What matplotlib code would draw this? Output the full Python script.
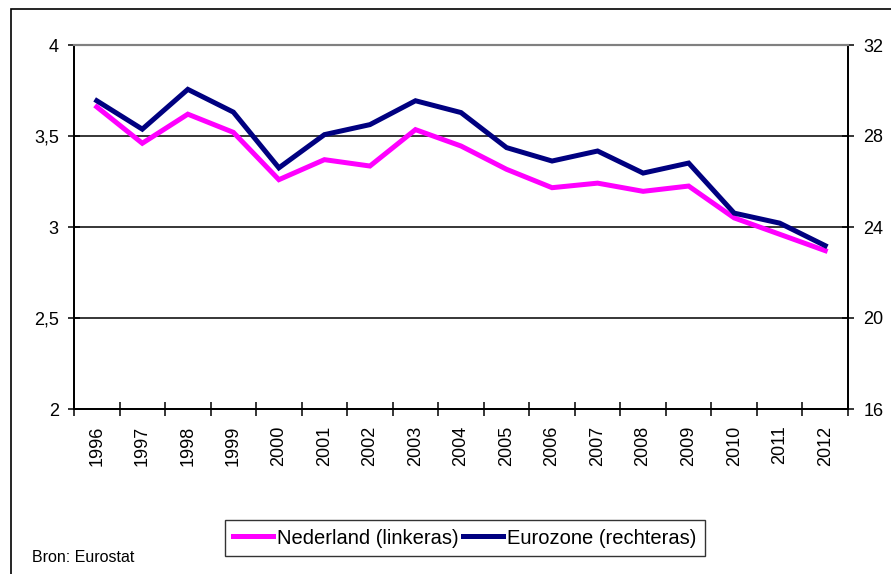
import matplotlib
matplotlib.use("Agg")
import matplotlib.pyplot as plt
from matplotlib.patches import Rectangle

plt.rcParams['font.family'] = ['Liberation Sans', 'DejaVu Sans']

years = [str(y) for y in range(1996, 2013)]
# Nederland, left axis
nederland = [3.66, 3.46, 3.62, 3.52, 3.26, 3.37, 3.335, 3.535, 3.445, 3.317,
             3.216, 3.241, 3.196, 3.225, 3.05, 2.96, 2.87]
# Eurozone, right axis
eurozone = [29.55, 28.3, 30.05, 29.05, 26.6, 28.06, 28.5, 29.55, 29.03, 27.49,
            26.9, 27.34, 26.37, 26.81, 24.61, 24.17, 23.18]
left_ticks = [2, 2.5, 3, 3.5, 4]
left_labels = ['2', '2,5', '3', '3,5', '4']
right_ticks = [16, 20, 24, 28, 32]

W, H = 891, 574
fig = plt.figure(figsize=(W / 100, H / 100), dpi=100)

# outer frame of the chart object
fig.patches.append(Rectangle((11 / W, -0.1), 1.2, 1 - 9 / H + 0.1,
                             transform=fig.transFigure, fill=False,
                             edgecolor='black', linewidth=1.2))

ax = fig.add_axes([74 / W, (H - 409) / H, (848 - 74) / W, (409 - 45) / H])
ax2 = ax.twinx()

x = list(range(len(years)))
l1, = ax.plot(x, nederland, color='#FF00FF', linewidth=3.6, solid_joinstyle='miter')
l2, = ax2.plot(x, eurozone, color='#000080', linewidth=3.6, solid_joinstyle='miter')

ax.set_xlim(-0.5, len(years) - 0.5)
ax.set_ylim(2, 4)
ax2.set_ylim(16, 32)

for v in left_ticks[1:-1]:
    ax.axhline(v, color='black', linewidth=1.1, zorder=0)

ax.set_yticks(left_ticks)
ax.set_yticklabels(left_labels, fontsize=13)
ax2.set_yticks(right_ticks)
ax2.set_yticklabels([str(t) for t in right_ticks], fontsize=13)

ax.set_xticks([i - 0.5 for i in range(len(years) + 1)])
ax.set_xticklabels([])
ax.set_xticks(x, minor=True)
ax.set_xticklabels(years, minor=True, rotation=90, fontsize=13)
ax.tick_params(axis='x', which='minor', length=0, pad=12)
ax.tick_params(axis='x', which='major', direction='inout', length=9.5, width=1.1)
ax.tick_params(axis='y', direction='inout', length=8, width=1.1, pad=7)
ax2.tick_params(axis='y', direction='inout', length=8, width=1.1, pad=7)

for a in (ax, ax2):
    a.spines['top'].set_color('#808080')
    a.spines['top'].set_linewidth(1.5)
    for s in ('left', 'right', 'bottom'):
        a.spines[s].set_linewidth(1.3)

leg = fig.legend([l1, l2], ['Nederland (linkeras)', 'Eurozone (rechteras)'],
                 loc='center', bbox_to_anchor=(465 / W, 1 - 538 / H), ncol=2,
                 fontsize=14.5, frameon=True, fancybox=False, handlelength=2.0,
                 handletextpad=0.2, columnspacing=0.2, borderpad=0.4,
                 borderaxespad=0)
leg.get_frame().set_edgecolor('black')
leg.get_frame().set_linewidth(1.0)

fig.text(32 / W, 1 - 558 / H, 'Bron: Eurostat', fontsize=11.5, va='center', ha='left')

fig.savefig('out.png', dpi=100)
